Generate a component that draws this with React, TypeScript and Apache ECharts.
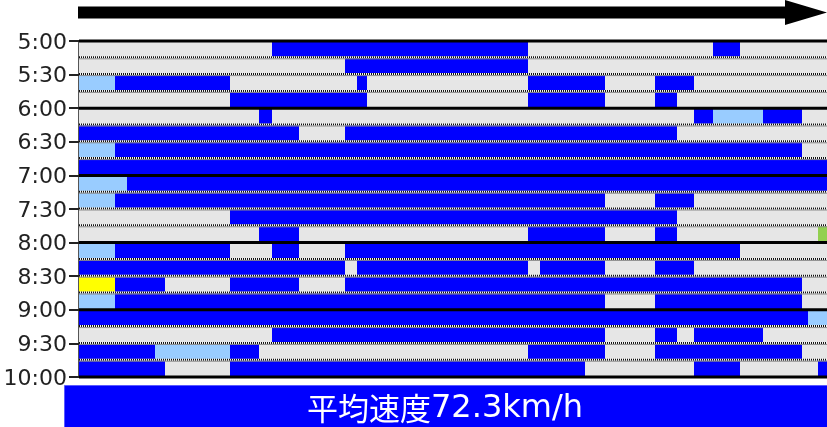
import React, { useEffect, useRef } from "react";
import * as echarts from "echarts";

// time labels every 30 min (rows are 15 min each)
const timeLabels = ["5:00", "5:30", "6:00", "6:30", "7:00", "7:30", "8:00", "8:30", "9:00", "9:30", "10:00"];

// road section boundaries (km from start)
const segmentBounds = [0, 3.6, 4.8, 7.6, 8.6, 15.1, 18.0, 19.3, 22.0, 26.6, 27.8, 28.8, 44.9, 46.1, 50.6, 52.6, 57.6, 59.8, 61.5, 63.4, 66.1, 68.4, 72.3, 72.9, 73.9, 74.8];

// status per 15-min row, one letter per section
// G: no data, B: free flow, L: light, Y: slow, N: other
const rowStatus = [
  "GGGGGGGBBBBBGGGGGGGBGGGGG",
  "GGGGGGGGGBBBGGGGGGGGGGGGG",
  "LBBBBGGGGGBGBBBGBBGGGGGGG",
  "GGGGGBBBBBBGBBBGBGGGGGGGG",
  "GGGGGGBGGGGGGGGGGGBLLBGGG",
  "BBBBBBBBGBBBBBBBBGGGGGGGG",
  "LBBBBBBBBBBBBBBBBBBBBBGGG",
  "BBBBBBBBBBBBBBBBBBBBBBBBB",
  "LLBBBBBBBBBBBBBBBBBBBBBBB",
  "LBBBBBBBBBBBBBBGBBGGGGGGG",
  "GGGGGBBBBBBBBBBBBGGGGGGGG",
  "GGGGGGBBGGGGBBBGBGGGGGGGN",
  "LBBBBGGBGBBBBBBBBBBBGGGGG",
  "BBBBBBBBBGBBGBBGBBGGGGGGG",
  "YBBBGBBBGBBBBBBBBBBBBBGGG",
  "LBBBBBBBBBBBBBBGBBBBBBGGG",
  "BBBBBBBBBBBBBBBBBBBBBBBLL",
  "GGGGGGGBBBBBBBBGBGBBBGGGG",
  "BBBLLBGGGGGGBBBGBBBBBBGGG",
  "BBBBGBBBBBBBBBGGGGBBGGGGB",
];

const statusColors: Record<string, string> = {
  G: "#e6e6e6",
  B: "#0000ff",
  L: "#99ccff",
  Y: "#ffff00",
  N: "#92d050",
};

const speedTitle = "平均速度";
const speedValue = "72.3km/h";

export default function App() {
  const ref = useRef<HTMLDivElement>(null);
  useEffect(() => {
    if (!ref.current) return;
    const chart = echarts.init(ref.current, null, { renderer: "svg" });
    const cells: number[][] = [];
    const cellColors: string[] = [];
    rowStatus.forEach((s, r) => {
      for (let i = 0; i < s.length; i++) {
        cells.push([segmentBounds[i], segmentBounds[i + 1], r]);
        cellColors.push(statusColors[s[i]]);
      }
    });
    const xMax = segmentBounds[segmentBounds.length - 1];
    const nRows = rowStatus.length;
    const lineRows: number[][] = [];
    for (let r = 0; r <= nRows; r++) lineRows.push([0, xMax, r]);

    chart.setOption({
      animation: false,
      grid: { left: 79, top: 41, right: 0, bottom: 50 },
      xAxis: { type: "value", min: 0, max: xMax, show: false },
      yAxis: {
        type: "value",
        min: 0,
        max: nRows,
        interval: 2,
        inverse: true,
        axisLine: { show: true, lineStyle: { color: "#555", width: 2 } },
        axisTick: { show: true, length: 10, lineStyle: { color: "#222", width: 2 } },
        splitLine: { show: false },
        axisLabel: {
          formatter: (v: number) => timeLabels[Math.round(v / 2)] ?? "",
          fontSize: 22,
          color: "#222",
          fontFamily: "DejaVu Sans",
          margin: 12,
        },
      },
      series: [
        {
          type: "custom",
          data: cells,
          encode: { x: [0, 1], y: 2 },
          renderItem: (params: any, api: any) => {
            const c = cells[params.dataIndex];
            const p0 = api.coord([c[0], c[2]]);
            const p1 = api.coord([c[1], c[2] + 1]);
            return {
              type: "rect",
              shape: { x: p0[0], y: Math.min(p0[1], p1[1]), width: p1[0] - p0[0], height: Math.abs(p1[1] - p0[1]) },
              style: { fill: cellColors[params.dataIndex] },
            };
          },
          z: 1,
        },
        {
          type: "custom",
          data: lineRows,
          encode: { x: [0, 1], y: 2 },
          renderItem: (params: any, api: any) => {
            const c = lineRows[params.dataIndex];
            const p0 = api.coord([c[0], c[2]]);
            const p1 = api.coord([c[1], c[2]]);
            const y = p0[1];
            if (c[2] % 4 === 0) {
              return {
                type: "rect",
                shape: { x: p0[0], y: y - 1.5, width: p1[0] - p0[0], height: 3 },
                style: { fill: "#000" },
              };
            }
            return {
              type: "group",
              children: [
                { type: "rect", shape: { x: p0[0], y: y - 1.5, width: p1[0] - p0[0], height: 2 }, style: { fill: "#f4f4f4" } },
                { type: "line", shape: { x1: p0[0], y1: y - 0.5, x2: p1[0], y2: y - 0.5 }, style: { stroke: "#111", lineWidth: 2, lineDash: [1, 1] } },
                { type: "line", shape: { x1: p0[0], y1: y + 1, x2: p1[0], y2: y + 1 }, style: { stroke: "#8a8a8a", lineWidth: 1 } },
              ],
            };
          },
          z: 3,
        },
      ],
      graphic: [
        {
          type: "polygon",
          shape: { points: [[78, 6.5], [785, 6.5], [785, 0], [827, 12.5], [785, 25], [785, 18.5], [78, 18.5]] },
          style: { fill: "#000" },
        },
        {
          type: "rect",
          shape: { x: 64.5, y: 385.5, width: 800, height: 60 },
          style: { fill: "#0000ff", stroke: "#5a5aff", lineWidth: 1 },
        },
        {
          type: "text",
          x: 445,
          y: 406,
          style: {
            text: `{a|${speedTitle}}{b|${speedValue}}`,
            rich: {
              a: { fontSize: 31, fontFamily: "Noto Sans CJK JP", fill: "#fff", color: "#fff", lineHeight: 34 },
              b: { fontSize: 32, fontFamily: "DejaVu Sans", fill: "#fff", color: "#fff", lineHeight: 34 },
            },
            fill: "#fff",
            textAlign: "center",
            textVerticalAlign: "middle",
          },
        },
      ],
    });
    return () => chart.dispose();
  }, []);
  return <div ref={ref} style={{ position: "fixed", left: 0, top: 0, width: 827, height: 427 }} />;
}
